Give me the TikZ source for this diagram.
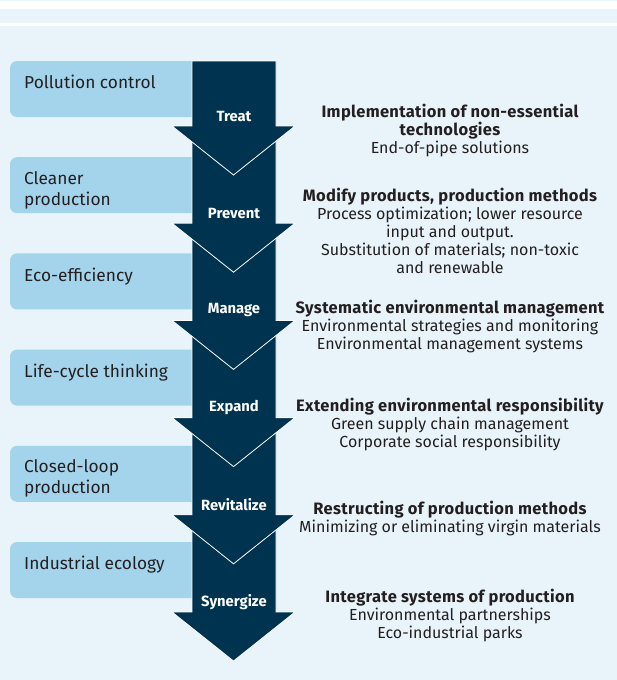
\documentclass[tikz,border=0pt]{standalone}
\usepackage{fontspec}
\setmainfont{Fira Sans}
\definecolor{bgblue}{HTML}{E8F3FA}
\definecolor{boxblue}{HTML}{A3D4EC}
\definecolor{navy}{HTML}{00334F}
\definecolor{txt}{HTML}{231F20}
\newcommand\hdtxt[1]{{\fontsize{16.5}{18.2}\selectfont\bfseries\addfontfeature{LetterSpace=2}#1}}
\begin{document}
\begin{tikzpicture}[x=1pt,y=-1pt,
  stagebox/.style={fill=boxblue,rounded corners=7pt},
  stagetext/.style={anchor=north west,align=left,text=txt,inner sep=0pt,font=\fontsize{17.3}{21}\selectfont},
  arrowseg/.style={fill=navy,draw=white,line width=0.8pt,line join=miter},
  actlabel/.style={text=white,font=\fontsize{14.8}{15}\selectfont\bfseries,inner sep=0pt},
  desc/.style={anchor=north,align=center,text=txt,inner sep=0pt,font=\fontsize{16}{18.2}\selectfont}
]
\useasboundingbox (0,0) rectangle (617,680);
\fill[bgblue] (0,0) rectangle (617,680);
\fill[white] (0,0.7) rectangle (617,9);
\fill[white] (0,23) rectangle (617,26);
% stage boxes
\foreach \i/\t in {0/{Pollution control},1/{Cleaner\\production},2/{Eco-efficiency},3/{Life-cycle thinking},4/{Closed-loop\\production},5/{Industrial ecology}}{
  \pgfmathsetmacro{\top}{61+96.2*\i}
  \fill[stagebox] (10,\top) rectangle (215,\top+56);
  \node[stagetext] (s\i) at (24,\top+14) {\t};
}
% arrow segments (drawn bottom-up so upper heads lie on top)
\foreach \i in {5,4,3,2,1,0}{
  \pgfmathsetmacro{\hb}{126+97.2*\i}
  \pgfmathsetmacro{\st}{\i==0 ? 61 : 126+97.2*(\i-1)+6}
  \draw[arrowseg] (192,\st) -- (276,\st) -- (276,\hb) -- (295,\hb) -- (233.5,\hb+49) -- (172,\hb) -- (192,\hb) -- cycle;
}
\foreach \i/\t in {0/Treat,1/Prevent,2/Manage,3/Expand,4/Revitalize,5/Synergize}{
  \pgfmathsetmacro{\y}{116+97.2*\i}
  \node[actlabel] (a\i) at (234,\y) {\t};
}
% descriptions
\node[desc] (d0) at (450,104) {\hdtxt{Implementation of non-essential}\\\hdtxt{technologies}\\End-of-pipe solutions};
\node[desc] (d1) at (450,187.5) {\hdtxt{Modify products, production methods}\\Process optimization; lower resource\\input and output.\\Substitution of materials; non-toxic\\and renewable};
\node[desc] (d2) at (450,299.5) {\hdtxt{Systematic environmental management}\\Environmental strategies and monitoring\\Environmental management systems};
\node[desc] (d3) at (450,397.5) {\hdtxt{Extending environmental responsibility}\\Green supply chain management\\Corporate social responsibility};
\node[desc] (d4) at (450,500.5) {\hdtxt{Restructing of production methods}\\Minimizing or eliminating virgin materials};
\node[desc] (d5) at (450,588.5) {\hdtxt{Integrate systems of production}\\Environmental partnerships\\Eco-industrial parks};
\end{tikzpicture}
\end{document}
